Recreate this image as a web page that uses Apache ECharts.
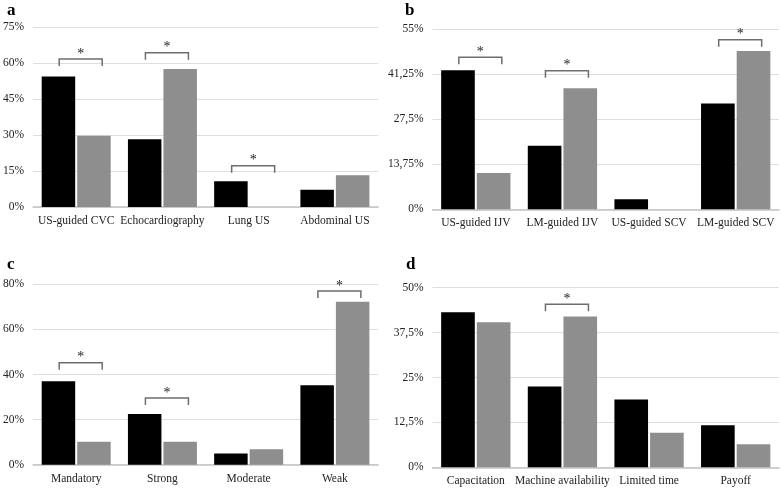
<!DOCTYPE html>
<html><head><meta charset="utf-8">
<script src="https://cdn.jsdelivr.net/npm/echarts@6/dist/echarts.min.js"></script>
<style>html,body{margin:0;padding:0;background:#fff}#c{width:781px;height:489px}</style>
</head><body><div id="c"></div>
<script>
// Panel a
const catsA = ['US-guided CVC', 'Echocardiography', 'Lung US', 'Abdominal US'];
const blackA = [54.4, 28.2, 10.7, 7.2];
const grayA = [29.7, 57.5, 0, 13.2];
const ticksA = [0, 15, 30, 45, 60, 75];
const sigA = [[0, 61.7], [1, 64.3], [2, 17.2]];
// Panel b
const catsB = ['US-guided IJV', 'LM-guided IJV', 'US-guided SCV', 'LM-guided SCV'];
const blackB = [42.4, 19.4, 3.1, 32.3];
const grayB = [11.1, 36.9, 0, 48.3];
const ticksB = [0, 13.75, 27.5, 41.25, 55];
const sigB = [[0, 46.4], [1, 42.3], [3, 51.7]];
// Panel c
const catsC = ['Mandatory', 'Strong', 'Moderate', 'Weak'];
const blackC = [37.0, 22.5, 5.0, 35.2];
const grayC = [10.2, 10.2, 6.8, 72.3];
const ticksC = [0, 20, 40, 60, 80];
const sigC = [[0, 45.2], [1, 29.6], [3, 77.0]];
// Panel d
const catsD = ['Capacitation', 'Machine availability', 'Limited time', 'Payoff'];
const blackD = [43.2, 22.5, 18.9, 11.7];
const grayD = [40.4, 42.0, 9.6, 6.4];
const ticksD = [0, 12.5, 25, 37.5, 50];
const sigD = [[1, 45.4]];

const panelLetters = ['a', 'b', 'c', 'd'];

const FONT = '"Liberation Serif", "Times New Roman", serif';
const TXT = '#222';

const panels = [
  {cats: catsA, black: blackA, gray: grayA, ticks: ticksA, sig: sigA, grid: {left: 32, right: 403, top: 27, bottom: 282}},
  {cats: catsB, black: blackB, gray: grayB, ticks: ticksB, sig: sigB, grid: {left: 432.5, right: 2, top: 29, bottom: 279.7}},
  {cats: catsC, black: blackC, gray: grayC, ticks: ticksC, sig: sigC, grid: {left: 32, right: 403, top: 284.3, bottom: 24.3}},
  {cats: catsD, black: blackD, gray: grayD, ticks: ticksD, sig: sigD, grid: {left: 432.5, right: 2, top: 287.7, bottom: 21.7}}
];

const grids = [], xAxes = [], yAxes = [], series = [];
panels.forEach((p, i) => {
  grids.push(Object.assign({containLabel: false}, p.grid));
  xAxes.push({
    type: 'category', gridIndex: i, data: p.cats,
    axisLine: {lineStyle: {color: '#c4c4c4', width: 1.5}},
    axisTick: {show: false},
    axisLabel: {color: TXT, fontFamily: FONT, fontSize: 11.5, margin: 8, interval: 0}
  });
  yAxes.push({
    type: 'value', gridIndex: i, min: p.ticks[0], max: p.ticks[p.ticks.length - 1],
    interval: p.ticks[1] - p.ticks[0],
    axisLine: {show: false}, axisTick: {show: false},
    splitLine: {lineStyle: {color: '#dedede', width: 1}},
    axisLabel: {color: TXT, fontFamily: FONT, fontSize: 11.5, margin: 9,
      formatter: v => String(v).replace('.', ',') + '%'}
  });
  series.push({
    type: 'bar', xAxisIndex: i, yAxisIndex: i, data: p.black,
    barCategoryGap: '20%', barGap: '6%',
    itemStyle: {color: '#000000'}, silent: true
  });
  series.push({
    type: 'bar', xAxisIndex: i, yAxisIndex: i, data: p.gray,
    barCategoryGap: '20%', barGap: '6%',
    itemStyle: {color: '#8e8e8e'}, silent: true
  });
  series.push({
    type: 'custom', xAxisIndex: i, yAxisIndex: i, data: p.sig, silent: true, clip: false, z: 5,
    renderItem: function (params, api) {
      const pt = api.coord([api.value(0), api.value(1)]);
      const cx = pt[0] + 4.5, y = pt[1], hw = 21.5, tick = 7;
      return {
        type: 'group',
        children: [
          {type: 'polyline', shape: {points: [[cx - hw, y + tick], [cx - hw, y], [cx + hw, y], [cx + hw, y + tick]]},
           style: {stroke: '#6e6e6e', lineWidth: 1.5, fill: null}},
          {type: 'text', x: cx, y: y + 2,
           style: {text: '*', fontFamily: FONT, fontSize: 14, fill: '#222', align: 'center', verticalAlign: 'bottom'}}
        ]
      };
    }
  });
});

const letterPos = [[7, 2], [405, 2], [7, 256], [406, 256]];
const titles = panelLetters.map((t, i) => ({
  text: t, left: letterPos[i][0], top: letterPos[i][1], padding: 0,
  textStyle: {fontFamily: FONT, fontWeight: 'bold', fontSize: 17, color: '#000'}
}));

const chart = echarts.init(document.getElementById('c'), null, {renderer: 'canvas'});
chart.setOption({
  animation: false,
  backgroundColor: '#fff',
  title: titles,
  grid: grids, xAxis: xAxes, yAxis: yAxes, series: series
});
</script></body></html>
